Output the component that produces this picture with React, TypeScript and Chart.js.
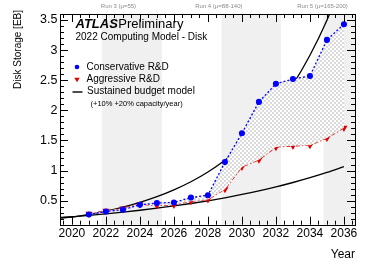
import React, { useEffect, useRef } from "react";
import { Chart, registerables } from "chart.js";

Chart.register(...registerables);

const years = [2021, 2022, 2023, 2024, 2025, 2026, 2027, 2028, 2029, 2030, 2031, 2032, 2033, 2034, 2035, 2036];
const conservative = [0.27, 0.32, 0.35, 0.43, 0.46, 0.47, 0.55, 0.59, 1.14, 1.62, 2.14, 2.44, 2.52, 2.57, 3.17, 3.43];
const aggressive = [0.28, 0.33, 0.37, 0.44, 0.42, 0.43, 0.49, 0.52, 0.69, 1.06, 1.18, 1.39, 1.41, 1.42, 1.54, 1.71];

const budgetYears = [2019.3, 2020, 2021, 2022, 2023, 2024, 2025, 2026, 2027, 2028, 2029, 2030, 2031, 2032, 2033, 2034, 2035, 2036];
const budgetHigh = [0.21, 0.227, 0.272, 0.327, 0.392, 0.471, 0.565, 0.678, 0.813, 0.976, 1.171, 1.405, 1.686, 2.024, 2.428, 2.914, 3.497, 4.196];
const budgetLow = [0.22, 0.232, 0.255, 0.281, 0.309, 0.34, 0.374, 0.411, 0.452, 0.497, 0.547, 0.602, 0.662, 0.728, 0.801, 0.881, 0.969, 1.066];

const xTicks = [2020, 2022, 2024, 2026, 2028, 2030, 2032, 2034, 2036];
const yTicks = [0.5, 1, 1.5, 2, 2.5, 3, 3.5];

const runBands = [
  { from: 2021.75, to: 2025.3, label: "Run 3 (\u03bc=55)", labelAt: 2021.7 },
  { from: 2028.8, to: 2032.3, label: "Run 4 (\u03bc=88-140)", labelAt: 2027.25 },
  { from: 2034.8, to: 2036.65, label: "Run 5 (\u03bc=165-200)", labelAt: 2033.25 },
];

const FONT = "'Liberation Sans', Arial, Helvetica, sans-serif";

export default function App() {
  const ref = useRef<HTMLCanvasElement | null>(null);

  useEffect(() => {
    document.body.style.margin = "0";
    const canvas = ref.current;
    if (!canvas) return;

    const pc = document.createElement("canvas");
    pc.width = 4;
    pc.height = 4;
    const pctx = pc.getContext("2d")!;
    pctx.fillStyle = "#ffffff";
    pctx.fillRect(0, 0, 4, 4);
    pctx.fillStyle = "#dadada";
    pctx.fillRect(0, 0, 2, 2);
    pctx.fillRect(2, 2, 2, 2);
    const pattern = canvas.getContext("2d")!.createPattern(pc, "repeat");

    const bandsPlugin = {
      id: "bands",
      beforeDraw(chart: any) {
        const { ctx, chartArea, scales } = chart;
        const x = scales.x;
        ctx.save();
        ctx.fillStyle = "#f0f0f0";
        for (const b of runBands) {
          const x0 = Math.max(x.getPixelForValue(b.from), chartArea.left);
          const x1 = Math.min(x.getPixelForValue(b.to), chartArea.right);
          ctx.fillRect(x0, chartArea.top, x1 - x0, chartArea.bottom - chartArea.top);
        }
        ctx.restore();
      },
      afterDraw(chart: any) {
        const { ctx, chartArea, scales } = chart;
        const x = scales.x;
        const y = scales.y;
        const { left, right, top, bottom } = chartArea;
        ctx.save();
        ctx.strokeStyle = "#000";
        ctx.lineWidth = 1;
        ctx.strokeRect(Math.round(left) + 0.5, Math.round(top) + 0.5, Math.round(right - left), Math.round(bottom - top));
        ctx.beginPath();
        for (let v = 2019.5; v <= 2036.6; v += 0.5) {
          const px = Math.round(x.getPixelForValue(v)) + 0.5;
          if (px < left || px > right) continue;
          const major = xTicks.includes(v);
          const len = major ? 8 : 4;
          ctx.moveTo(px, bottom);
          ctx.lineTo(px, bottom - len);
          ctx.moveTo(px, top);
          ctx.lineTo(px, top + len);
        }
        for (let i = 1; i <= 35; i++) {
          const v = i / 10 + 0.1;
          const py = Math.round(y.getPixelForValue(v)) + 0.5;
          if (py < top || py > bottom) continue;
          const major = Math.abs(v * 2 - Math.round(v * 2)) < 1e-6;
          const len = major ? 8 : 4;
          ctx.moveTo(left, py);
          ctx.lineTo(left + len, py);
          ctx.moveTo(right, py);
          ctx.lineTo(right - len, py);
        }
        ctx.stroke();

        ctx.fillStyle = "#8a8a8a";
        ctx.font = `6px ${FONT}`;
        ctx.textBaseline = "middle";
        ctx.textAlign = "left";
        for (const b of runBands) {
          ctx.fillText(b.label, x.getPixelForValue(b.labelAt), 6);
        }

        ctx.fillStyle = "#000";
        ctx.font = `12px ${FONT}`;
        ctx.textAlign = "right";
        ctx.fillText("Year", right, 255);
        ctx.save();
        ctx.translate(18, 10);
        ctx.rotate(-Math.PI / 2);
        ctx.font = `10px ${FONT}`;
        ctx.textAlign = "right";
        ctx.textBaseline = "middle";
        ctx.fillText("Disk Storage [EB]", 0, 0);
        ctx.restore();

        ctx.textAlign = "left";
        ctx.textBaseline = "alphabetic";
        ctx.font = `italic bold 13px ${FONT}`;
        ctx.fillText("ATLAS", 75.5, 28);
        const w = ctx.measureText("ATLAS").width;
        ctx.font = `13px ${FONT}`;
        ctx.fillText("Preliminary", 75.5 + w + 0.5, 28);
        ctx.font = `10px ${FONT}`;
        ctx.fillText("2022 Computing Model - Disk", 75.5, 39.5);

        ctx.textBaseline = "middle";
        ctx.font = `10px ${FONT}`;
        ctx.fillStyle = "#0000ff";
        ctx.beginPath();
        ctx.arc(77, 67, 2.3, 0, Math.PI * 2);
        ctx.fill();
        ctx.fillStyle = "#000";
        ctx.fillText("Conservative R&D", 86.5, 67.5);

        ctx.fillStyle = "#e00000";
        ctx.beginPath();
        ctx.moveTo(74.3, 77.8);
        ctx.lineTo(79.7, 77.8);
        ctx.lineTo(77, 82.3);
        ctx.closePath();
        ctx.fill();
        ctx.fillStyle = "#000";
        ctx.fillText("Aggressive R&D", 86.5, 79.7);

        ctx.strokeStyle = "#000";
        ctx.lineWidth = 1.4;
        ctx.beginPath();
        ctx.moveTo(72.5, 92);
        ctx.lineTo(82.5, 92);
        ctx.stroke();
        ctx.fillText("Sustained budget model", 87, 91.5);
        ctx.font = `7.5px ${FONT}`;
        ctx.fillText("(+10% +20% capacity/year)", 90.5, 104);
        ctx.restore();
      },
    };

    const chart = new Chart(canvas, {
      type: "line",
      data: {
        datasets: [
          {
            label: "Conservative R&D",
            data: years.map((yr, i) => ({ x: yr, y: conservative[i] })),
            borderColor: "#0000ff",
            backgroundColor: pattern as any,
            pointBackgroundColor: "#0000ff",
            pointBorderColor: "#0000ff",
            pointRadius: 2.4,
            pointStyle: "circle",
            borderWidth: 1.3,
            borderDash: [2, 2],
            fill: { target: 1 },
            tension: 0,
          },
          {
            label: "Aggressive R&D",
            data: years.map((yr, i) => ({ x: yr, y: aggressive[i] })),
            borderColor: "#e00000",
            backgroundColor: "#e00000",
            pointBackgroundColor: "#e00000",
            pointBorderColor: "#e00000",
            pointRadius: 2.8,
            pointStyle: "triangle",
            pointRotation: 180,
            borderWidth: 1.3,
            borderDash: [4, 2, 1.5, 2],
            fill: false,
            tension: 0,
          },
          {
            label: "Sustained budget +20%",
            data: budgetYears.map((yr, i) => ({ x: yr, y: budgetHigh[i] })),
            borderColor: "#000",
            borderWidth: 1.3,
            pointRadius: 0,
            fill: false,
            cubicInterpolationMode: "monotone",
          },
          {
            label: "Sustained budget +10%",
            data: budgetYears.map((yr, i) => ({ x: yr, y: budgetLow[i] })),
            borderColor: "#000",
            borderWidth: 1.3,
            pointRadius: 0,
            fill: false,
            cubicInterpolationMode: "monotone",
          },
        ],
      },
      options: {
        animation: false,
        responsive: false,
        devicePixelRatio: 1,
        layout: { padding: { left: 0, right: 19, top: 14, bottom: 0 } },
        plugins: {
          legend: { display: false },
          tooltip: { enabled: false },
        },
        scales: {
          x: {
            type: "linear",
            min: 2019.3,
            max: 2036.65,
            grid: { display: false, drawTicks: false },
            border: { display: false },
            afterBuildTicks: (s: any) => {
              s.ticks = xTicks.map((v) => ({ value: v }));
            },
            afterFit: (s: any) => {
              s.height = 43.3;
            },
            ticks: {
              autoSkip: false,
              maxRotation: 0,
              padding: 2,
              color: "#000",
              font: { family: FONT, size: 12 },
              callback: (v: any) => String(v),
            },
          },
          y: {
            type: "linear",
            min: 0.1,
            max: 3.6,
            grid: { display: false, drawTicks: false },
            border: { display: false },
            afterBuildTicks: (s: any) => {
              s.ticks = yTicks.map((v) => ({ value: v }));
            },
            afterFit: (s: any) => {
              s.width = 60;
            },
            ticks: {
              autoSkip: false,
              padding: 2.5,
              color: "#000",
              font: { family: FONT, size: 12.5 },
              callback: (v: any) => String(v),
            },
          },
        },
      },
      plugins: [bandsPlugin],
    });

    return () => chart.destroy();
  }, []);

  return (
    <div style={{ width: 374, height: 268, position: "relative" }}>
      <canvas ref={ref} width={374} height={268} style={{ width: 374, height: 268, display: "block" }} />
    </div>
  );
}
